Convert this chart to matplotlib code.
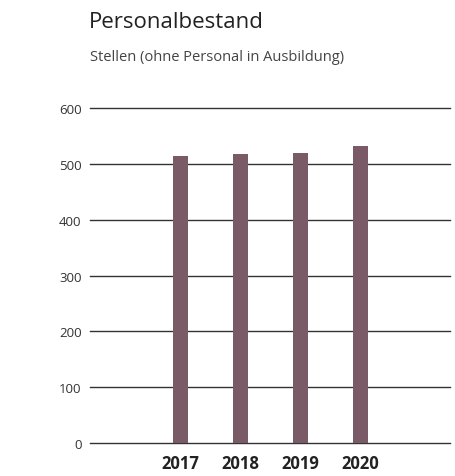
import matplotlib.pyplot as plt

# Data
years = ['2017', '2018', '2019', '2020']
stellen = [514, 518, 520, 532]
y_ticks = [0, 100, 200, 300, 400, 500, 600]

plt.rcParams['font.family'] = ['Open Sans', 'DejaVu Sans']

fig = plt.figure(figsize=(4.55, 4.77), dpi=100)
ax = fig.add_axes([90 / 455, 1 - 444 / 477, 360 / 455, 335 / 477])

x = range(len(years))
ax.bar(x, stellen, width=0.25, color='#7b5a67', zorder=3)

ax.set_xlim(-1.5, 4.5)
ax.set_ylim(0, 600)
ax.set_yticks(y_ticks)
ax.set_xticks(list(x))
ax.set_xticklabels(years, fontsize=12, fontweight='bold', color='#222222')
ax.tick_params(axis='y', length=0, pad=6, labelsize=9.5, labelcolor='#333333')
ax.tick_params(axis='x', length=0, pad=8)

for t in y_ticks:
    ax.axhline(t, color='#333333', linewidth=1.0, zorder=1, clip_on=False)

for side in ['top', 'right', 'left', 'bottom']:
    ax.spines[side].set_visible(False)

fig.text(89 / 455, 1 - 28 / 477, 'Personalbestand', fontsize=16, color='#222222')
fig.text(90 / 455, 1 - 61 / 477, 'Stellen (ohne Personal in Ausbildung)', fontsize=10.5, color='#444444')

fig.savefig('out.png', dpi=100)
